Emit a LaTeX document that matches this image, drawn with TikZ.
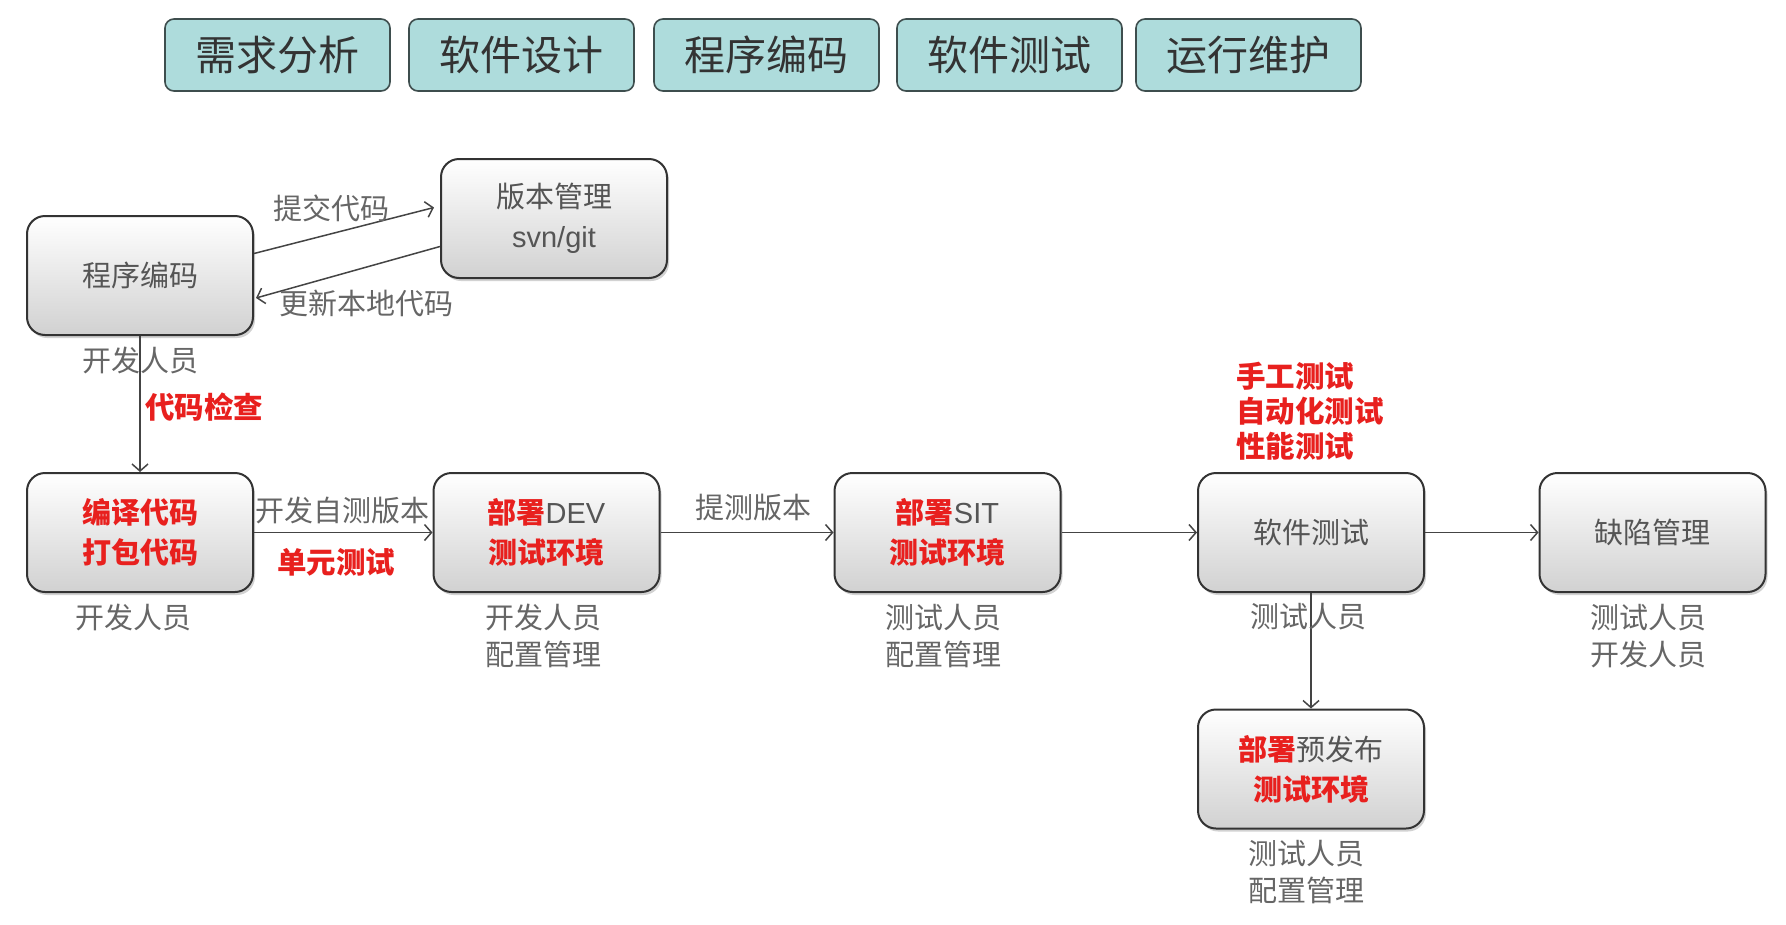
\documentclass[tikz,border=0pt]{standalone}
\usepackage{fontspec}
\setmainfont{Noto Sans CJK SC}
\newfontfamily\lat{Liberation Sans}
\usetikzlibrary{arrows.meta,shadows}
\definecolor{phasefill}{HTML}{AEDCDC}
\definecolor{phasedraw}{HTML}{3E4E4E}
\definecolor{boxdraw}{HTML}{333333}
\definecolor{txtgray}{HTML}{555555}
\definecolor{lblgray}{HTML}{666666}
\definecolor{redtxt}{HTML}{E8201E}
\definecolor{linegray}{HTML}{444444}
\tikzset{
  phase/.style={draw=phasedraw, fill=phasefill, line width=1.6pt, rounded corners=9pt,
    minimum width=225pt, minimum height=72pt, inner sep=0pt, text=black!80,
    font=\fontsize{41pt}{46pt}\selectfont},
  procbox/.style={draw=boxdraw, line width=2pt, rounded corners=18pt,
    top color=white, bottom color=black!18, drop shadow={shadow xshift=2pt, shadow yshift=-3pt, opacity=0.35},
    minimum width=226pt, minimum height=119pt, inner sep=0pt, align=center, text=txtgray,
    font=\fontsize{29pt}{40pt}\selectfont},
  lbl/.style={text=lblgray, align=center, inner sep=0pt, font=\fontsize{29pt}{36.5pt}\selectfont},
  redlbl/.style={text=redtxt, align=left, inner sep=0pt, font=\fontsize{29.5pt}{35pt}\selectfont\bfseries},
  conn/.style={draw=linegray, line width=1.5pt, -{Straight Barb[length=7pt,width=16pt,line width=1.5pt]}},
}
\newcommand\rd[1]{\textcolor{redtxt}{\bfseries #1}}
\begin{document}
\begin{tikzpicture}[x=1pt,y=-1pt]
\useasboundingbox (0,0) rectangle (1786,924);
\fill[white] (0,0) rectangle (1786,924);
% phase row
\node[phase] (p1) at (277.5,55) {需求分析};
\node[phase] (p2) at (521.5,55) {软件设计};
\node[phase] (p3) at (766.5,55) {程序编码};
\node[phase] (p4) at (1009.5,55) {软件测试};
\node[phase] (p5) at (1248.5,55) {运行维护};
% boxes
\node[procbox] (code) at (140,275.5) {程序编码};
\node[procbox] (vcs) at (554,218.5) {版本管理\\{\lat svn/git}};
\node[procbox] (build) at (140,532.5) {\rd{编译代码}\\\rd{打包代码}};
\node[procbox] (dev) at (546.5,532.5) {\rd{部署}{\lat DEV}\\\rd{测试环境}};
\node[procbox] (sit) at (947.5,532.5) {\rd{部署}{\lat SIT}\\\rd{测试环境}};
\node[procbox] (test) at (1311,532.5) {软件测试};
\node[procbox] (defect) at (1652.5,532.5) {缺陷管理};
\node[procbox] (pre) at (1311,769) {\rd{部署}预发布\\\rd{测试环境}};
% connectors
\draw[conn] ([yshift=22pt]code.east) -- ([xshift=-6pt,yshift=11pt]vcs.west);
\draw[conn] ([yshift=-28pt]vcs.west) -- ([xshift=2pt,yshift=-22.5pt]code.east);
\draw[conn] (code.south) -- (build.north);
\draw[conn] (build.east) -- (dev.west);
\draw[conn] (dev.east) -- (sit.west);
\draw[conn] (sit.east) -- (test.west);
\draw[conn] (test.east) -- (defect.west);
\draw[conn] (test.south) -- (pre.north);
% labels
\node[lbl] (l1) at (331,208) {提交代码};
\node[lbl] (l2) at (366,303) {更新本地代码};
\node[lbl] (l3) at (140,360) {开发人员};
\node[redlbl, anchor=west] (l4) at (145,407) {代码检查};
\node[lbl] (l5) at (133,617) {开发人员};
\node[lbl] (l6) at (342,510) {开发自测版本};
\node[redlbl] (l7) at (336,562) {单元测试};
\node[lbl] (l8) at (543,636) {开发人员\\配置管理};
\node[lbl] (l9) at (753,508) {提测版本};
\node[lbl] (l10) at (943,636) {测试人员\\配置管理};
\node[redlbl, anchor=west] (l11) at (1236,411) {手工测试\\自动化测试\\性能测试};
\node[lbl] (l12) at (1308,617) {测试人员};
\node[lbl] (l13) at (1648,636) {测试人员\\开发人员};
\node[lbl] (l14) at (1306,872) {测试人员\\配置管理};
\end{tikzpicture}
\end{document}
